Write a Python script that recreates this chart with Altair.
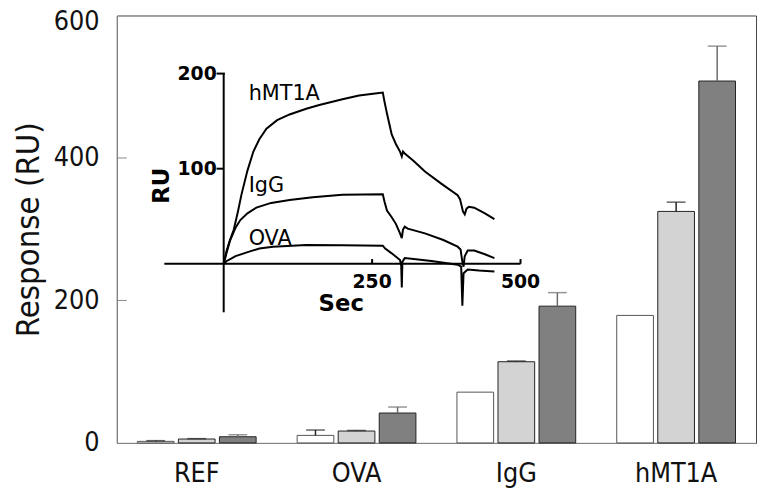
import altair as alt
import pandas as pd

FONT = "DejaVu Sans Condensed, DejaVu Sans, sans-serif"
IFONT = "DejaVu Sans, sans-serif"

# ---- main bar data ----
groups = ["REF", "OVA", "IgG", "hMT1A"]
series = ["s1", "s2", "s3"]
vals_s1 = [2.2, 10.6, 71.3, 179]
vals_s2 = [5.5, 16.7, 114, 325]
vals_s3 = [8.7, 42, 192, 508]
errs_s1 = [1.0, 7.5, 0, 0]
errs_s2 = [0.5, 0.8, 1.0, 13]
errs_s3 = [2.8, 8.4, 19, 49]
fill_colors = ["#ffffff", "#d3d3d3", "#808080"]
edge_colors = ["#555555", "#222222", "#222222"]
err_colors = ["#222222", "#222222", "#6a6a6a"]

# ---- inset sensorgram data (time s, response RU) ----
hmt_t = [0, 5, 10, 17, 24, 30, 40, 50, 60, 72, 90, 111, 139, 161, 200, 228, 255, 268,
         271, 275, 283, 290, 297, 300, 302, 305, 320, 339, 367, 394, 398, 400, 403, 406,
         409, 413, 422, 440, 456]
hmt_ru = [0, 14, 24, 36, 55, 73, 98, 118, 131, 142, 151, 157, 163, 167, 173, 177, 179, 180,
          170, 158, 136, 126, 118, 113, 118, 116, 108, 97, 84, 72, 68, 63, 55, 52,
          58, 60, 59, 53, 47]
igg_t = [0, 5, 11, 20, 28, 40, 55, 80, 111, 150, 200, 268, 271, 275, 283, 290, 297, 300,
         302, 305, 310, 339, 370, 394, 399, 402, 404, 406, 411, 422, 440, 456]
igg_ru = [0, 12, 25, 38, 46, 53, 59, 64, 67, 70, 72.6, 73, 65, 56, 49, 42, 32, 27,
          36, 39, 37, 32, 25, 18, 15, 2, -3, 8, 14, 14, 10, 6]
ova_t = [0, 5, 11, 20, 39, 60, 83, 139, 200, 268, 272, 283, 297, 299, 300, 301, 305, 320,
         350, 394, 400, 402, 404, 411, 430, 456]
ova_ru = [0, 3, 5, 8, 12, 16, 18, 19.7, 19.5, 19, 16, 11, 4, -2, -25, 2, 6, 5,
          3, -1, -3, -44, -10, -6, -7, -8]
curve_names = ["hMT1A", "IgG", "OVA"]
label_t = [42, 42, 42]
label_ru = [172, 75, 20]

rows = []
for gi, g in enumerate(groups):
    for si, (vals, errs) in enumerate([(vals_s1, errs_s1), (vals_s2, errs_s2), (vals_s3, errs_s3)]):
        rows.append({"group": g, "series": series[si], "value": vals[gi],
                     "err": errs[gi], "top": vals[gi] + errs[gi]})
df = pd.DataFrame(rows)
err_df = df[df["err"] > 0].copy()

x_enc = alt.X("group:N", sort=groups,
              scale=alt.Scale(paddingInner=0, paddingOuter=0),
              axis=alt.Axis(title=None, labelAngle=0, ticks=False, domainColor="#888888",
                            labelFont=FONT, labelFontSize=27, labelPadding=18,
                            labelColor="#111111"))
xo_enc = alt.XOffset("series:N", sort=series,
                     scale=alt.Scale(paddingInner=0.106, paddingOuter=0.5))
y_axis = alt.Axis(values=[0, 200, 400, 600], ticks=False, grid=False, domainColor="#888888",
                  labelFont=FONT, labelFontSize=27, labelPadding=18, labelColor="#111111",
                  labelOffset={"condition": {"test": "datum.value == 600", "value": 6}, "value": 0},
                  title="Response (RU)", titleFont=FONT, titleFontSize=33,
                  titleFontWeight="normal", titleColor="#111111", titleAngle=270,
                  titleX=-79, titleY=216, titleAlign="center", titleBaseline="alphabetic")
y_scale = alt.Scale(domain=[0, 600], nice=False, zero=True)

bars = alt.Chart(df).mark_bar(strokeWidth=1).encode(
    x=x_enc, xOffset=xo_enc,
    y=alt.Y("value:Q", scale=y_scale, axis=y_axis),
    fill=alt.Fill("series:N", sort=series, scale=alt.Scale(domain=series, range=fill_colors), legend=None),
    stroke=alt.Stroke("series:N", sort=series, scale=alt.Scale(domain=series, range=edge_colors), legend=None),
)
stems = alt.Chart(err_df).mark_rule(strokeWidth=1.5).encode(
    x=x_enc, xOffset=xo_enc,
    y=alt.Y("value:Q", scale=y_scale, axis=y_axis), y2="top:Q",
    color=alt.Color("series:N", sort=series, scale=alt.Scale(domain=series, range=err_colors), legend=None),
)
caps = alt.Chart(err_df).mark_tick(thickness=1.5, size=19, orient="horizontal").encode(
    x=x_enc, xOffset=xo_enc,
    y=alt.Y("top:Q", scale=y_scale, axis=y_axis),
    color=alt.Color("series:N", sort=series, scale=alt.Scale(domain=series, range=err_colors), legend=None),
)
ytick_df = pd.DataFrame({"value": [200, 400]})
yticks = alt.Chart(ytick_df).mark_rule(color="#888888", strokeWidth=1).encode(
    y=alt.Y("value:Q", scale=y_scale, axis=y_axis), x=alt.value(0), x2=alt.value(10))

bar_layer = alt.layer(bars, stems, caps, yticks)

# ---- inset ----
xs = alt.Scale(domain=[-100, 500], range=[48, 408], nice=False, zero=False)
ys = alt.Scale(domain=[-50, 200], range=[299, 58.7], nice=False, zero=False)

crow = []
for name, ts, rs in [("hMT1A", hmt_t, hmt_ru), ("IgG", igg_t, igg_ru), ("OVA", ova_t, ova_ru)]:
    for i, (t, r) in enumerate(zip(ts, rs)):
        crow.append({"curve": name, "i": i, "t": t, "ru": r})
cdf = pd.DataFrame(crow)

lines = alt.Chart(cdf).mark_line(color="black", strokeWidth=2).encode(
    x=alt.X("t:Q", scale=xs, axis=None),
    y=alt.Y("ru:Q", scale=ys, axis=None),
    detail="curve:N", order="i:Q")

axis_segs = pd.DataFrame({
    "t":   [-100, 0, -12, -12, 250, 500],
    "t2":  [500, 0, 2, 0, 250, 500],
    "ru":  [0, -51, 200, 100, 0, 0],
    "ru2": [0, 200, 200, 100, 5, 5],
})
inset_axes = alt.Chart(axis_segs).mark_rule(color="black", strokeWidth=2).encode(
    x=alt.X("t:Q", scale=xs, axis=None), x2="t2:Q",
    y=alt.Y("ru:Q", scale=ys, axis=None), y2="ru2:Q")

ytl = pd.DataFrame({"t": [0, 0], "ru": [200, 100], "label": ["200", "100"]})
ytext = alt.Chart(ytl).mark_text(font=IFONT, fontSize=19, fontWeight="bold", align="right",
                                 baseline="middle", dx=-7, color="black").encode(
    x=alt.X("t:Q", scale=xs, axis=None), y=alt.Y("ru:Q", scale=ys, axis=None), text="label:N")
xtl = pd.DataFrame({"t": [250, 500], "ru": [0, 0], "label": ["250", "500"]})
xtext = alt.Chart(xtl).mark_text(font=IFONT, fontSize=19, fontWeight="bold", align="center",
                                 baseline="top", dy=9, color="black").encode(
    x=alt.X("t:Q", scale=xs, axis=None), y=alt.Y("ru:Q", scale=ys, axis=None), text="label:N")
sec = alt.Chart(pd.DataFrame({"t": [198], "ru": [-42.6], "label": ["Sec"]})).mark_text(
    font=IFONT, fontSize=23, fontWeight="bold", align="center", baseline="middle", color="black").encode(
    x=alt.X("t:Q", scale=xs, axis=None), y=alt.Y("ru:Q", scale=ys, axis=None), text="label:N")
ru = alt.Chart(pd.DataFrame({"t": [-104.5], "ru": [82], "label": ["RU"]})).mark_text(
    font=IFONT, fontSize=23, fontWeight="bold", align="center", baseline="middle", angle=270,
    color="black").encode(
    x=alt.X("t:Q", scale=xs, axis=None), y=alt.Y("ru:Q", scale=ys, axis=None), text="label:N")
clab = pd.DataFrame({"t": label_t, "ru": label_ru, "label": curve_names})
ctext = alt.Chart(clab).mark_text(font=IFONT, fontSize=21, align="left", baseline="alphabetic",
                                  color="black").encode(
    x=alt.X("t:Q", scale=xs, axis=None), y=alt.Y("ru:Q", scale=ys, axis=None), text="label:N")

inset_layer = alt.layer(lines, inset_axes, ytext, xtext, sec, ru, ctext)

chart = alt.layer(bar_layer, inset_layer).resolve_scale(
    x="independent", y="independent"
).properties(
    width=646, height=432,
    autosize=alt.AutoSizeParams(type="none"),
    padding={"left": 110, "top": 5, "right": 2, "bottom": 46},
).configure_view(stroke="#444444", strokeWidth=1)

chart.save("out.html", embed_options={"renderer": "svg", "actions": False})
